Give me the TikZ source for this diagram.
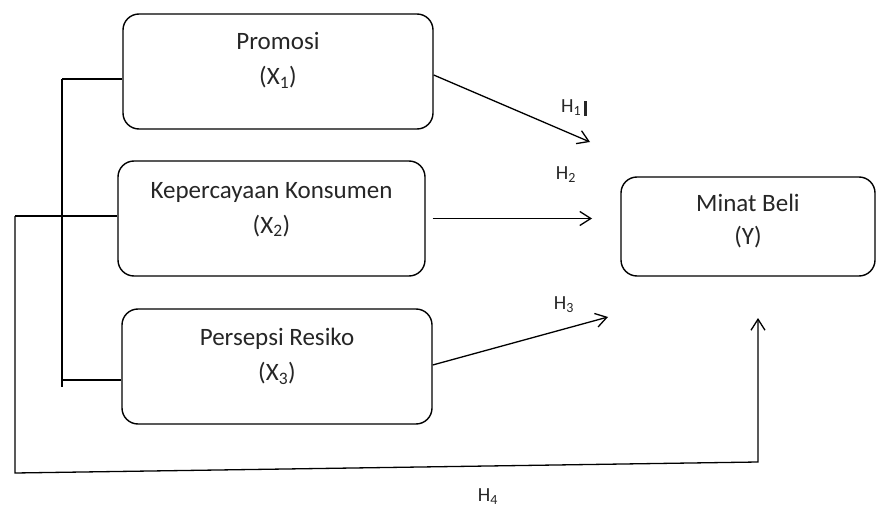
\documentclass[tikz,border=0pt]{standalone}
\usepackage{fontspec}
\setmainfont{Carlito}
\usetikzlibrary{calc, arrows.meta}

\begin{document}
\begin{tikzpicture}[x=1pt, y=-1pt, line width=1.3pt,
  varbox/.style={draw, rounded corners=16pt, line width=1.4pt, inner sep=0pt},
  vartext/.style={align=center, text=black!85, font=\fontsize{25}{35}\selectfont},
  hlabel/.style={text=black!85, font=\fontsize{20}{22}\selectfont},
  tip/.style={-{Straight Barb[length=11pt, width=14pt]}}]
  \useasboundingbox (0,0) rectangle (876,508);
  % kotak variabel
  \node[varbox, minimum width=310pt, minimum height=115pt] (X1) at (278,71.5) {};
  \node[varbox, minimum width=307pt, minimum height=115pt] (X2) at (271.5,218.5) {};
  \node[varbox, minimum width=310pt, minimum height=115pt] (X3) at (277,366.5) {};
  \node[varbox, minimum width=254pt, minimum height=99pt] (Y) at (748,226.5) {};
  \node[vartext] (X1t) at ([yshift=11pt]X1.center) {Promosi\\(X\textsubscript{1})};
  \node[vartext] (X2t) at ([yshift=9pt]X2.center) {Kepercayaan Konsumen\\(X\textsubscript{2})};
  \node[vartext] (X3t) at ([yshift=10pt]X3.center) {Persepsi Resiko\\(X\textsubscript{3})};
  \node[vartext, font=\fontsize{25}{33}\selectfont] (Yt) at ([yshift=5pt]Y.center) {Minat Beli\\(Y)};
  % garis kiri
  \coordinate (P1) at (62,79);
  \coordinate (P2) at (62,380);
  \coordinate (P3) at (62,387);
  \coordinate (Q1) at (15,216);
  \coordinate (Q2) at (15,473);
  \coordinate (Q3) at (758,462);
  \coordinate (Q4) at (758,318);
  \draw[line width=2.2pt] (P1) -- (X1.west |- P1);
  \draw (P1) -- (P3);
  \draw (P2) -- (X3.west |- P2);
  \draw[line width=2.2pt] (Q1) -- (X2.west |- Q1);
  \draw[tip] (Q1) -- (Q2) -- (Q3) -- (Q4);
  % panah hipotesis
  \coordinate (E1) at (590,142);
  \coordinate (E2) at (592,218.5);
  \coordinate (E3) at (608,317);
  \draw[tip] ([yshift=-3.5pt]X1.east) -- (E1);
  \draw[tip, shorten <=7pt] (X2.east) -- (E2);
  \draw[tip] ([yshift=1.5pt]X3.east) -- (E3);
  \node[hlabel] (H1) at (574,108) {H\textsubscript{1}\,\rule[-3pt]{2.5pt}{15pt}};
  \node[hlabel] (H2) at (566,175) {H\textsubscript{2}};
  \node[hlabel] (H3) at (564,305) {H\textsubscript{3}};
  \node[hlabel] (H4) at (488,497) {H\textsubscript{4}};
\end{tikzpicture}
\end{document}
